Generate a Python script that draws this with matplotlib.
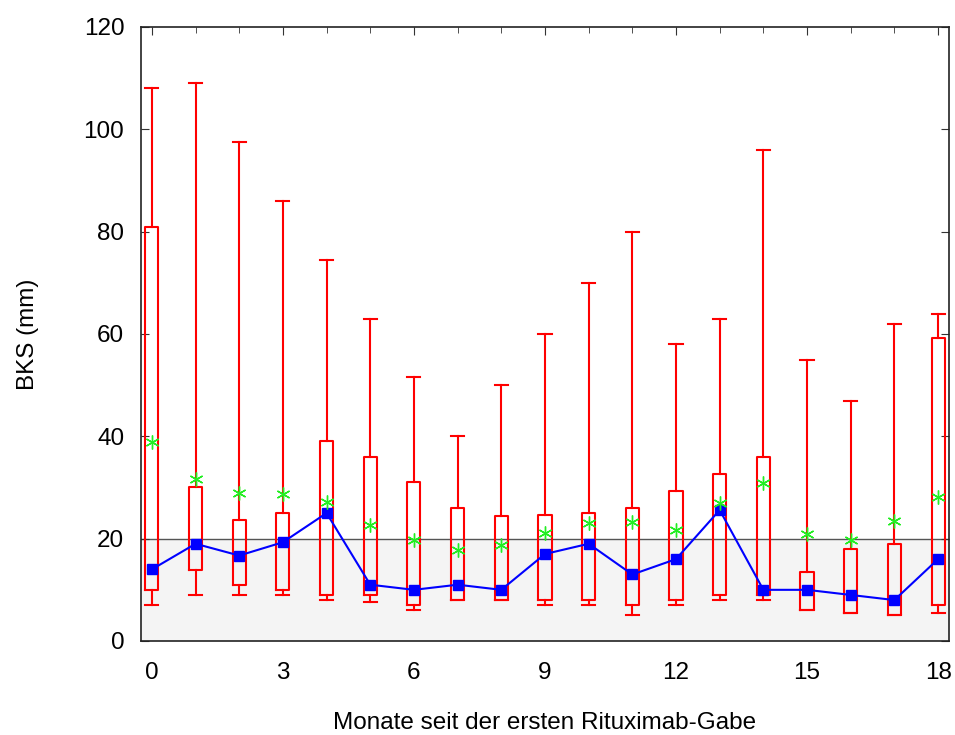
import matplotlib
matplotlib.use("Agg")
import matplotlib.pyplot as plt
from matplotlib.ticker import MultipleLocator

# ── Data (BKS in mm per month after first rituximab dose) ────────────────
months   = [0, 1, 2, 3, 4, 5, 6, 7, 8, 9, 10, 11, 12, 13, 14, 15, 16, 17, 18]
whis_hi  = [108, 109, 97.5, 86, 74.5, 63, 51.5, 40, 50, 60, 70, 80, 58, 63, 96, 55, 47, 62, 64]
q3       = [81, 30, 23.6, 25, 39, 36, 31, 26, 24.4, 24.6, 25, 26, 29.4, 32.6, 36, 13.4, 18, 19, 59.3]
q1       = [10, 13.9, 10.9, 10, 9, 9, 7, 8, 8, 8, 8, 7, 8, 8.9, 9, 6, 5.5, 5, 7]
whis_lo  = [7, 9, 9, 9, 8, 7.6, 6, 8, 8, 7, 7, 5, 7, 8, 8, 6, 5.5, 5, 5.4]
medians  = [14, 19, 16.7, 19.3, 25, 11, 10, 11, 10, 17, 19, 13, 16, 25.6, 10, 10, 9, 8, 16]
means    = [38.8, 31.7, 28.9, 28.7, 27.2, 22.7, 19.7, 17.8, 18.8, 21.2, 23.1, 23.3, 21.6, 26.9, 30.8, 21, 19.7, 23.4, 28.2]
ref_line = 20

# ── Style ────────────────────────────────────────────────────────────────
_C_BOX   = "#ff0000"
_C_MED   = "#0000ff"
_C_MEAN  = "#22ee22"
_C_SHADE = "#f4f4f4"

plt.rcParams["font.family"] = ["Liberation Sans", "DejaVu Sans"]

fig = plt.figure(figsize=(9.55, 7.35), dpi=100)
ax = fig.add_axes([0.1476, 0.1279, 0.8461, 0.8354])

# shaded reference band below 20 mm
ax.axhspan(0, ref_line, color=_C_SHADE, zorder=0, lw=0)
ax.axhline(ref_line, color="#555555", linewidth=1.0, zorder=1)

stats = [
    dict(med=m, q1=a, q3=b, whislo=lo, whishi=hi, fliers=[])
    for m, a, b, lo, hi in zip(medians, q1, q3, whis_lo, whis_hi)
]
line_kw = dict(color=_C_BOX, linewidth=1.5)
ax.bxp(
    stats, positions=months, widths=0.3, capwidths=0.3,
    boxprops=line_kw, whiskerprops=line_kw, capprops=line_kw,
    medianprops=dict(linewidth=0), showfliers=False, zorder=2,
    manage_ticks=False,
)

ax.plot(months, medians, color=_C_MED, linewidth=1.5, marker="s",
        markersize=6.5, zorder=4)
ax.plot(months, means, linestyle="none", marker=(6, 2, 0), markersize=10,
        markeredgewidth=1.0, color=_C_MEAN, zorder=5)

# ── Axes formatting ──────────────────────────────────────────────────────
ax.set_xlim(-0.25, 18.25)
ax.set_ylim(0, 120)
ax.xaxis.set_major_locator(MultipleLocator(3))
ax.xaxis.set_minor_locator(MultipleLocator(1))
ax.yaxis.set_major_locator(MultipleLocator(20))

ax.tick_params(axis="x", which="both", direction="in", bottom=False, top=True,
               labelbottom=True, labelsize=17.5, pad=15, color="#333333")
ax.tick_params(axis="x", which="major", length=6)
ax.tick_params(axis="x", which="minor", length=4)
ax.tick_params(axis="y", which="both", direction="in", left=True, right=True,
               labelsize=17.5, length=6, pad=12, color="#333333")

for sp in ax.spines.values():
    sp.set_color("#222222")
    sp.set_linewidth(1.2)

ax.set_xlabel("Monate seit der ersten Rituximab-Gabe", fontsize=17.5, labelpad=20)
ax.set_ylabel("BKS (mm)", fontsize=17.5, labelpad=32)

fig.savefig("out.png", dpi=100)
